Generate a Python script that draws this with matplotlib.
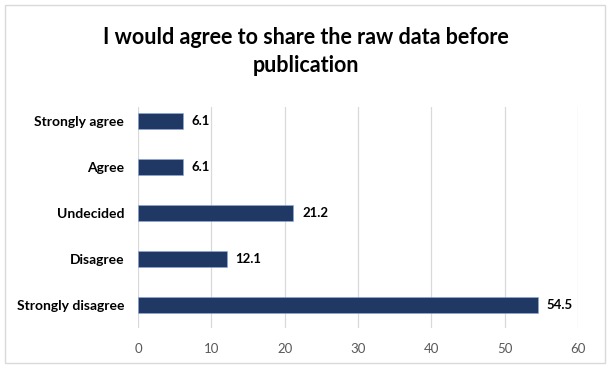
import matplotlib
matplotlib.use("Agg")
import matplotlib.pyplot as plt
from matplotlib.patches import Rectangle

categories = ["Strongly agree", "Agree", "Undecided", "Disagree", "Strongly disagree"]
values = [6.1, 6.1, 21.2, 12.1, 54.5]
x_ticks = [0, 10, 20, 30, 40, 50, 60]
title = "I would agree to share the raw data before\npublication"

plt.rcParams["font.family"] = ["Lato", "DejaVu Sans"]

fig = plt.figure(figsize=(6.12, 3.69), dpi=100)
fig.patches.append(Rectangle((5 / 612, 6 / 369), 600 / 612, 358 / 369,
                             transform=fig.transFigure, fill=False,
                             edgecolor="#d9d9d9", linewidth=1.0))

ax = fig.add_axes([138 / 612, 1 - 328 / 369, 440 / 612, 221 / 369])
ypos = list(range(len(categories)))
ax.barh(ypos, values, height=0.35, color="#203864", edgecolor="#8eaadb",
        linewidth=0.4, zorder=3)
for y, v in zip(ypos, values):
    ax.text(v + 1.2, y, f"{v:.1f}", va="center", ha="left", fontsize=9.5,
            fontweight="bold", color="#000000")

ax.set_xlim(0, 60)
ax.set_ylim(4.5, -0.31)
ax.set_xticks(x_ticks)
ax.set_xticklabels([str(t) for t in x_ticks], fontsize=9.5, color="#595959")
ax.set_yticks(ypos)
ax.set_yticklabels(categories, fontsize=10, fontweight="bold", color="#000000")
ax.tick_params(axis="both", length=0)
ax.tick_params(axis="x", pad=11)
ax.tick_params(axis="y", pad=10)
ax.grid(axis="x", color="#d9d9d9", linewidth=0.9, zorder=0)
for s in ax.spines.values():
    s.set_visible(False)

fig.text(0.5, 1 - 38 / 369, "I would agree to share the raw data before",
         ha="center", va="center", fontsize=15.5, fontweight="bold", color="#000000")
fig.text(0.5, 1 - 66 / 369, "publication",
         ha="center", va="center", fontsize=15.5, fontweight="bold", color="#000000")

fig.savefig("out.png", dpi=100)
